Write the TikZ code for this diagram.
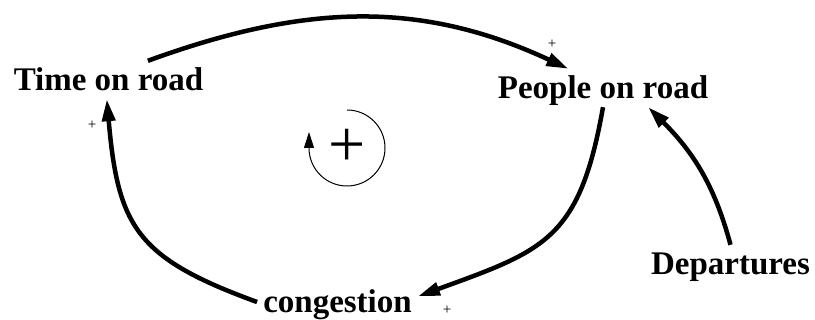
\documentclass[tikz,border=0pt]{standalone}
\usepackage{fontspec}
\setmainfont{Liberation Serif}
\usetikzlibrary{arrows.meta}

\begin{document}
\begin{tikzpicture}[
    x=1pt, y=1pt,
    var/.style={font=\bfseries\fontsize{33}{33}\selectfont, anchor=base, text height=22pt, text depth=0pt, inner sep=8pt},
    link/.style={line width=4.5pt, -{Triangle[length=22pt, width=13pt]}},
    sign/.style={font=\fontsize{15}{15}\selectfont, inner sep=0pt},
]
    \useasboundingbox (0,0) rectangle (815,320);
    % Variables
    \node[var] (time) at (108.5, 229) {Time on road};
    \node[var] (people) at (603, 221) {People on road};
    \node[var] (departures) at (730.5, 45) {Departures};
    \node[var, inner xsep=6pt] (congestion) at (337.5, 7) {congestion};
    % Causal links
    \draw[link] (time.26) to[out=20, in=155] (people.151);
    \draw[link] (people.270) to[out=260, in=20, looseness=1.3] (congestion.4);
    \draw[link] (congestion.180) to[out=160, in=275, looseness=1.3] (time.265);
    \draw[link] (departures.90) to[out=105, in=315] (people.337);
    % Polarities
    \node[sign] (s1) at (552, 276) {+};
    \node[sign] (s2) at (447, 10) {+};
    \node[sign] (s3) at (92, 195) {+};
    % Loop marker
    \node[font=\fontsize{66}{66}\selectfont, inner sep=0pt] (loop) at (347, 172) {+};
    \draw[line width=1pt, -{Triangle[length=16pt, width=10pt]}] ([shift={(90:38)}]loop.center) arc[start angle=90, end angle=-180, radius=38] -- ++(0, 16);
\end{tikzpicture}
\end{document}
